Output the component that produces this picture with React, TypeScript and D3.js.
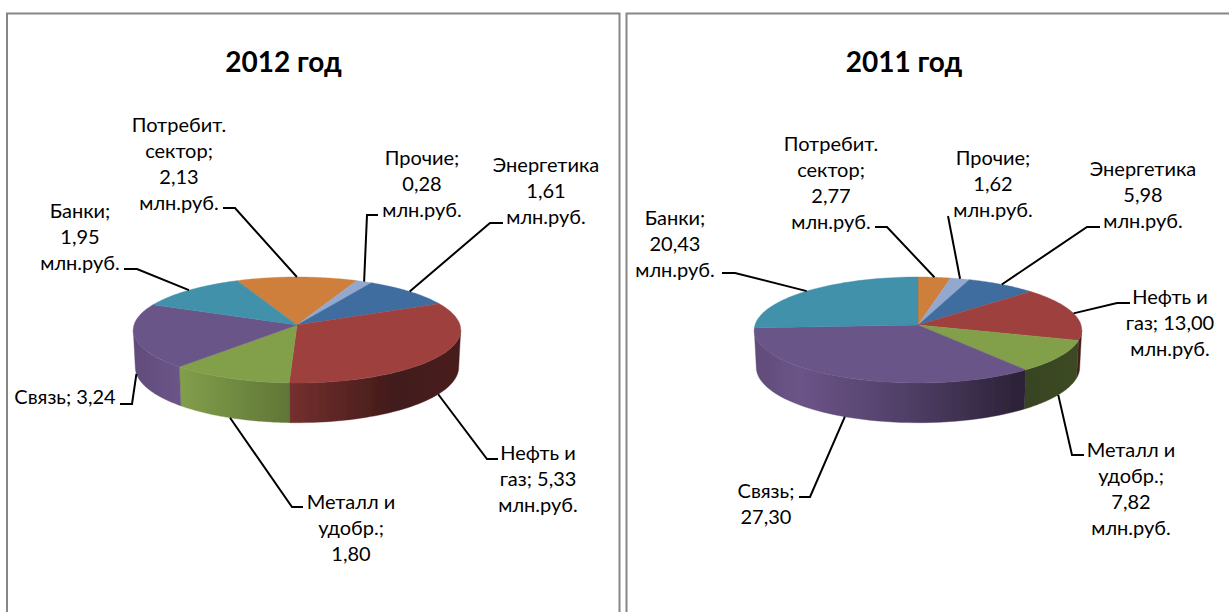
import React from 'react';
import * as d3 from 'd3';

const sectors2012 = ['Потребит. сектор', 'Прочие', 'Энергетика', 'Нефть и газ', 'Металл и удобр.', 'Связь', 'Банки'];
const values2012 = [2.13, 0.28, 1.61, 5.33, 1.8, 3.24, 1.95];
const values2011 = [2.77, 1.62, 5.98, 13.0, 7.82, 27.3, 20.43];
const colors = ['#ce7f3a', '#92a8cf', '#416d9f', '#9e413e', '#829f4a', '#6b5488', '#3f91a9'];
const labels2012 = [
  ['Потребит.', 'сектор;', '2,13', 'млн.руб.'],
  ['Прочие;', '0,28', 'млн.руб.'],
  ['Энергетика', '1,61', 'млн.руб.'],
  ['Нефть и', 'газ; 5,33', 'млн.руб.'],
  ['Металл и', 'удобр.;', '1,80'],
  ['Связь; 3,24'],
  ['Банки;', '1,95', 'млн.руб.'],
];
const labels2011 = [
  ['Потребит.', 'сектор;', '2,77', 'млн.руб.'],
  ['Прочие;', '1,62', 'млн.руб.'],
  ['Энергетика', '5,98', 'млн.руб.'],
  ['Нефть и', 'газ; 13,00', 'млн.руб.'],
  ['Металл и', 'удобр.;', '7,82', 'млн.руб.'],
  ['Связь;', '27,30'],
  ['Банки;', '20,43', 'млн.руб.'],
];
// label centre x, first-line centre y, leader start and elbow
const layout2012 = [
  { x: 179, y: 125, from: [223, 208], elbow: [235, 208] },
  { x: 422, y: 158, from: [378, 215], elbow: [367, 215] },
  { x: 546, y: 165, from: [503, 223], elbow: [490, 223] },
  { x: 538, y: 453, from: [498, 459], elbow: [487, 459] },
  { x: 351, y: 502, from: [303, 507], elbow: [292, 507] },
  { x: 65, y: 397, from: [120, 404], elbow: [132, 404] },
  { x: 80, y: 211, from: [124, 269], elbow: [137, 269] },
];
const layout2011 = [
  { x: 831, y: 144, from: [875, 227], elbow: [887, 227] },
  { x: 993, y: 158, from: [948, 216], elbow: [948, 216] },
  { x: 1143, y: 169, from: [1100, 227], elbow: [1087, 227] },
  { x: 1170, y: 297, from: [1130, 303], elbow: [1117, 303] },
  { x: 1131, y: 450, from: [1084, 455], elbow: [1072, 455] },
  { x: 766, y: 491, from: [799, 497], elbow: [810, 497] },
  { x: 675, y: 218, from: [722, 273], elbow: [735, 273] },
];

const K = 0.094;
const project = (cx: number, cy: number, r: number, a: number, theta: number) => {
  const X = Math.sin(theta), Z = Math.cos(theta), s = 1 / (1 + K * Z);
  return [cx + r * X * s, cy - a * Z * s];
};
const sweep = (t0: number, t1: number) => d3.range(0, 1.0001, 1 / 48).map((u) => t0 + (t1 - t0) * u);
const line = d3.line();
const deg = Math.PI / 180;
const silhouette = Math.acos(-K);

const shade: [number, number][] = [[0, 0.9], [0.14, 1], [0.475, 0.74], [0.8, 0.42], [1, 0.47]];

function Pie3D({ id, title, cx, values, labels, layout, start, titleX }: any) {
  const top = { cy: 325, r: 163, a: 52.5 };
  const low = { cy: 362, r: 161, a: 55 };
  const arcs = d3.pie<number>().sort(null).startAngle(start * deg).endAngle((start + 360) * deg)(values);
  const topPt = (t: number) => project(cx, top.cy, top.r, top.a, t);
  const lowPt = (t: number) => project(cx, low.cy, low.r, low.a, t);
  return (
    <g>
      <defs>
        {colors.map((c, i) => (
          <linearGradient key={i} id={`${id}g${i}`} gradientUnits="userSpaceOnUse" x1={cx - 164} x2={cx + 164} y1={0} y2={0}>
            {shade.map(([o, f]) => <stop key={o} offset={o} stopColor={d3.interpolateRgb('#000', c)(f)} />)}
          </linearGradient>
        ))}
        <filter id={`${id}soft`} x="-5%" y="-5%" width="110%" height="110%"><feGaussianBlur stdDeviation="0.5" /></filter>
      </defs>
      <g filter={`url(#${id}soft)`}>
        {arcs.map((d, i) => {
          const t0 = Math.max(d.startAngle, silhouette), t1 = Math.min(d.endAngle, 2 * Math.PI - silhouette);
          if (t1 <= t0) return null;
          const ts = sweep(t0, t1);
          const pts = [...ts.map(topPt), ...ts.slice().reverse().map(lowPt)] as [number, number][];
          return <path key={i} d={line(pts) + 'Z'} fill={`url(#${id}g${i})`} stroke={`url(#${id}g${i})`} strokeWidth={0.4} />;
        })}
        {arcs.map((d, i) => {
          const pts = [[cx, top.cy], ...sweep(d.startAngle, d.endAngle).map(topPt)] as [number, number][];
          return <path key={i} d={line(pts) + 'Z'} fill={colors[i]} stroke={colors[i]} strokeWidth={0.4} />;
        })}
      </g>
      {arcs.map((d, i) => {
        const mid = (d.startAngle + d.endAngle) / 2;
        const end = Math.cos(mid) > 0 ? topPt(mid) : lowPt(mid);
        const l = layout[i];
        return <polyline key={i} points={[l.from, l.elbow, end].join(' ')} fill="none" stroke="#000" strokeWidth={2} />;
      })}
      <text x={titleX} y={72} textAnchor="middle" fontFamily="Lato, 'Open Sans', sans-serif" fontWeight={700} fontSize={28}>{title}</text>
      {labels.map((ls: string[], i: number) => (
        <text key={i} textAnchor="middle" fontFamily="Lato, 'Open Sans', sans-serif" fontSize={20}>
          {ls.map((t, j) => <tspan key={j} x={layout[i].x} y={layout[i].y + 6.5 + j * 26}>{t}</tspan>)}
        </text>
      ))}
    </g>
  );
}

export default function App() {
  return (
    <svg width={1229} height={612} style={{ position: 'absolute', left: 0, top: 0, background: '#fff' }} aria-label={sectors2012.join(', ')}>
      <path d="M7 612V13.5H619.5V612" fill="none" stroke="#868686" strokeWidth={2} />
      <path d="M626.5 612V13.5H1232" fill="none" stroke="#868686" strokeWidth={2} />
      <Pie3D id="a" title="2012 год" cx={297} titleX={283.5} values={values2012} labels={labels2012} layout={layout2012} start={-23.5} />
      <Pie3D id="b" title="2011 год" cx={918} titleX={904} values={values2011} labels={labels2011} layout={layout2011} start={0} />
    </svg>
  );
}
